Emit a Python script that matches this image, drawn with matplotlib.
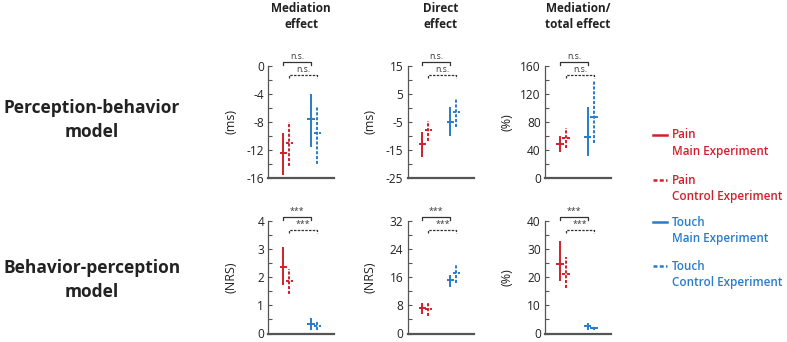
import matplotlib
matplotlib.use("Agg")
import matplotlib.pyplot as plt
from matplotlib.lines import Line2D
import numpy as np

plt.rcParams['font.family'] = ['Open Sans', 'DejaVu Sans']

# ---------------- data ----------------
col_titles = ["Mediation\neffect", "Direct\neffect", "Mediation/\ntotal effect"]
row_titles = ["Perception-behavior\nmodel", "Behavior-perception\nmodel"]
series_groups = ["Pain", "Pain", "Touch", "Touch"]
series_exps = ["Main Experiment", "Control Experiment",
               "Main Experiment", "Control Experiment"]

top_ylabels = ["(ms)", "(ms)", "(%)"]
bot_ylabels = ["(NRS)", "(NRS)", "(%)"]

top_ylims = [(-16, 0), (-25, 15), (0, 160)]
bot_ylims = [(0, 4), (0, 32), (0, 40)]
top_major = [4, 10, 40]
bot_major = [1, 8, 10]

# mean, lower, upper per panel; order: pain main, pain ctrl, touch main, touch ctrl
top_mean = [[-12.4, -11.0, -7.5, -9.6],
            [-13.0, -7.9, -5.0, -1.35],
            [49.0, 57.0, 58.8, 87.5]]
top_low = [[-15.5, -14.3, -11.5, -14.0],
           [-17.6, -11.9, -9.9, -6.8],
           [37.6, 43.0, 32.0, 49.4]]
top_high = [[-9.55, -8.0, -4.0, -5.7],
            [-8.5, -4.8, 0.3, 3.6],
            [60.0, 72.0, 102.0, 140.0]]

bot_mean = [[2.35, 1.85, 0.35, 0.28],
            [7.2, 6.85, 15.1, 17.1],
            [24.7, 21.2, 2.8, 2.0]]
bot_low = [[1.73, 1.41, 0.12, 0.12],
           [5.6, 5.1, 13.2, 14.3],
           [18.7, 16.1, 1.1, 1.1]]
bot_high = [[3.07, 2.29, 0.56, 0.45],
            [8.65, 8.65, 16.5, 19.6],
            [32.8, 27.3, 3.8, 2.8]]

top_sig = ["n.s.", "n.s."]
bot_sig = ["***", "***"]

# ---------------- style ----------------
RED = '#d21f2b'
BLUE = '#2a7bc8'
GRAY = '#555555'
colors = [RED, RED, BLUE, BLUE]
styles = ['-', (0, (1.6, 0.9)), '-', (0, (1.6, 0.9))]
xpos = [0.227, 0.318, 0.647, 0.742]

W, H = 787, 342
fig = plt.figure(figsize=(W / 100, H / 100), dpi=100)

col_left = [268.3, 407.5, 545.0]
col_w = 66.0
row_top = [66.0, 221.0]
row_h = [112.0, 112.5]


def make_ax(ci, ri):
    l = col_left[ci] / W
    b = 1 - (row_top[ri] + row_h[ri]) / H
    return fig.add_axes([l, b, col_w / W, row_h[ri] / H])


def draw_panel(ax, means, lows, highs, ylim, major, ylabel, sig):
    ax.set_xlim(0, 1)
    ax.set_ylim(*ylim)
    for x, m, lo, hi, c, ls in zip(xpos, means, lows, highs, colors, styles):
        ax.plot([x, x], [lo, hi], color=c, lw=1.4, ls=ls, solid_capstyle='butt')
        ax.plot([x - 0.055, x + 0.055], [m, m], color=c, lw=1.4, ls=ls,
                solid_capstyle='butt')
    ticks = np.arange(ylim[0], ylim[1] + 1e-9, major)
    ax.set_yticks(ticks)
    ax.set_yticks(np.arange(ylim[0], ylim[1] + 1e-9, major / 2), minor=True)
    ax.set_yticklabels([f"{t:g}" for t in ticks])
    ax.tick_params(axis='y', which='both', direction='in', length=3,
                   width=0.8, color=GRAY, labelsize=8.6, pad=3,
                   labelcolor='#222222')
    ax.set_xticks([])
    for s in ['top', 'right']:
        ax.spines[s].set_visible(False)
    ax.spines['left'].set_color(GRAY)
    ax.spines['left'].set_linewidth(0.9)
    ax.spines['bottom'].set_color(GRAY)
    ax.spines['bottom'].set_linewidth(1.6)
    ax.set_ylabel(ylabel, fontsize=9, color='#222222')
    ax.yaxis.set_label_coords(-0.47, 0.5)
    ax.patch.set_visible(False)

    span = ylim[1] - ylim[0]
    tk = 0.025 * span
    # solid bracket (main vs main)
    y1 = ylim[1] + 0.037 * span
    ax.plot([xpos[0], xpos[0], xpos[2], xpos[2]], [y1 - tk, y1, y1, y1 - tk],
            color='#333333', lw=0.9, clip_on=False)
    ax.text((xpos[0] + xpos[2]) / 2, y1 + 0.01 * span, sig[0], ha='center',
            va='bottom', fontsize=6.3, color='#333333', clip_on=False)
    # dashed bracket (control vs control)
    y2 = ylim[1] - 0.082 * span
    ax.plot([xpos[1], xpos[1], xpos[3], xpos[3]], [y2 - tk, y2, y2, y2 - tk],
            color='#333333', lw=0.9, ls=(0, (2, 1)), clip_on=False)
    ax.text((xpos[1] + xpos[3]) / 2, y2 + 0.01 * span, sig[1], ha='center',
            va='bottom', fontsize=6.3, color='#333333', clip_on=False)


for ci in range(3):
    ax = make_ax(ci, 0)
    draw_panel(ax, top_mean[ci], top_low[ci], top_high[ci], top_ylims[ci],
               top_major[ci], top_ylabels[ci], top_sig)
    ax = make_ax(ci, 1)
    draw_panel(ax, bot_mean[ci], bot_low[ci], bot_high[ci], bot_ylims[ci],
               bot_major[ci], bot_ylabels[ci], bot_sig)

# column titles
for ci, t in enumerate(col_titles):
    cx = (col_left[ci] + col_w / 2) / W
    fig.text(cx, 1 - 16.5 / H, t, ha='center', va='center', fontsize=8.5,
             fontweight='bold', color='#222222', linespacing=1.3)

# row titles
for ri, t in enumerate(row_titles):
    cy = [120, 280][ri]
    fig.text(92 / W, 1 - cy / H, t, ha='center', va='center', fontsize=12.5,
             fontweight='bold', color='#222222', linespacing=1.4)

# legend
leg_y = [135, 180, 222, 266]
for i in range(4):
    c, ls = colors[i], styles[i]
    yy = 1 - leg_y[i] / H
    fig.add_artist(Line2D([653 / W, 667 / W], [yy, yy], color=c, lw=1.8,
                          ls=ls, transform=fig.transFigure))
    fig.text(672 / W, yy, series_groups[i], ha='left', va='center',
             fontsize=8.4, fontweight='semibold', color=c)
    fig.text(672 / W, yy - 16.5 / H, series_exps[i], ha='left', va='center',
             fontsize=8.4, fontweight='semibold', color=c)

fig.savefig("out.png", dpi=100)
